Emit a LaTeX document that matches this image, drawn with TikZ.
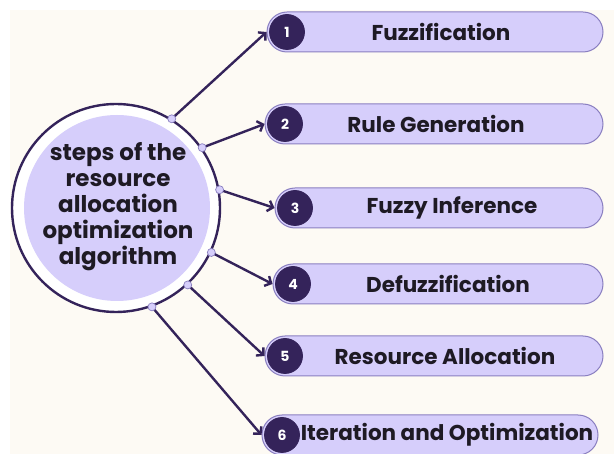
\documentclass[tikz,border=0pt]{standalone}
\usepackage{fontspec}
\setmainfont{Poppins}
\usetikzlibrary{arrows.meta,calc}
\definecolor{cream}{HTML}{FDFAF4}
\definecolor{ink}{HTML}{34235A}
\definecolor{lav}{HTML}{D6CEFB}
\definecolor{lavline}{HTML}{8A7FC0}
\definecolor{txt}{HTML}{1E1A24}
\tikzset{
  pill/.style={draw=lavline, line width=1pt, fill=lav, rounded corners=20pt,
    minimum height=40pt, inner sep=0pt},
  numdot/.style={circle, fill=ink, draw=ink, line width=0.8pt, minimum size=35pt,
    inner sep=0pt, text=white, font=\bfseries\fontsize{14}{14}\selectfont},
  steptext/.style={text=txt, font=\bfseries\fontsize{21.5}{22}\selectfont, inner sep=0pt},
  joint/.style={circle, fill=lav, draw=lavline, line width=0.7pt, minimum size=8pt, inner sep=0pt},
  link/.style={draw=ink, line width=2.4pt, line cap=round, line join=round,
    -{Straight Barb[length=5pt, width=11pt, line width=2.4pt]}},
}
\begin{document}
\begin{tikzpicture}[x=1pt, y=-1pt]
  % canvas
  \useasboundingbox (0,0) rectangle (614,454);
  \fill[white] (0,0) rectangle (614,454);
  \fill[cream] (10,10) rectangle (614,454);

  % central hub
  \node[circle, draw=ink, line width=2.4pt, fill=white, minimum size=208pt, inner sep=0pt] (hub) at (116,208) {};
  \node[circle, fill=lav, minimum size=186pt, inner sep=0pt] (core) at (117,208) {};
  \node[text=txt, align=center, font=\bfseries\fontsize{23}{26}\selectfont] (title) at (118,207)
    {steps of the\\resource\\allocation\\optimization\\algorithm};

  % step pills
  \node[pill, minimum width=336pt] (p1) at (435,32) {};
  \node[pill, minimum width=338pt] (p2) at (434,124) {};
  \node[pill, minimum width=328pt] (p3) at (439,208) {};
  \node[pill, minimum width=330pt] (p4) at (438,284) {};
  \node[pill, minimum width=338pt] (p5) at (434,356) {};
  \node[pill, minimum width=336pt] (p6) at (430,435) {};

  % numbered badges
  \node[numdot] (n1) at ($(p1.west)+(20.5,0)$) {1};
  \node[numdot] (n2) at ($(p2.west)+(20.5,0)$) {2};
  \node[numdot] (n3) at ($(p3.west)+(20.5,0)$) {3};
  \node[numdot] (n4) at ($(p4.west)+(20.5,0)$) {4};
  \node[numdot] (n5) at ($(p5.west)+(20.5,0)$) {5};
  \node[numdot] (n6) at ($(p6.west)+(20.5,0)$) {6};

  % step labels
  \node[steptext] (t1) at (441,32) {Fuzzification};
  \node[steptext] (t2) at (436,124) {Rule Generation};
  \node[steptext] (t3) at (452,208) {Fuzzy Inference};
  \node[steptext] (t4) at (448,284) {Defuzzification};
  \node[steptext] (t5) at (445,356) {Resource Allocation};
  \node[steptext] (t6) at (447,435) {Iteration and Optimization};

  % connectors from the hub rim to each step
  \foreach \a/\k in {58.6/1, 35.2/2, 10.6/3, -25.1/4, -47/5, -70.7/6} {
    \draw[link] (hub.\a) -- (p\k.west);
  }
  \foreach \a/\k in {58.6/1, 35.2/2, 10.6/3, -25.1/4, -47/5, -70.7/6} {
    \node[joint] (j\k) at (hub.\a) {};
  }
\end{tikzpicture}
\end{document}
